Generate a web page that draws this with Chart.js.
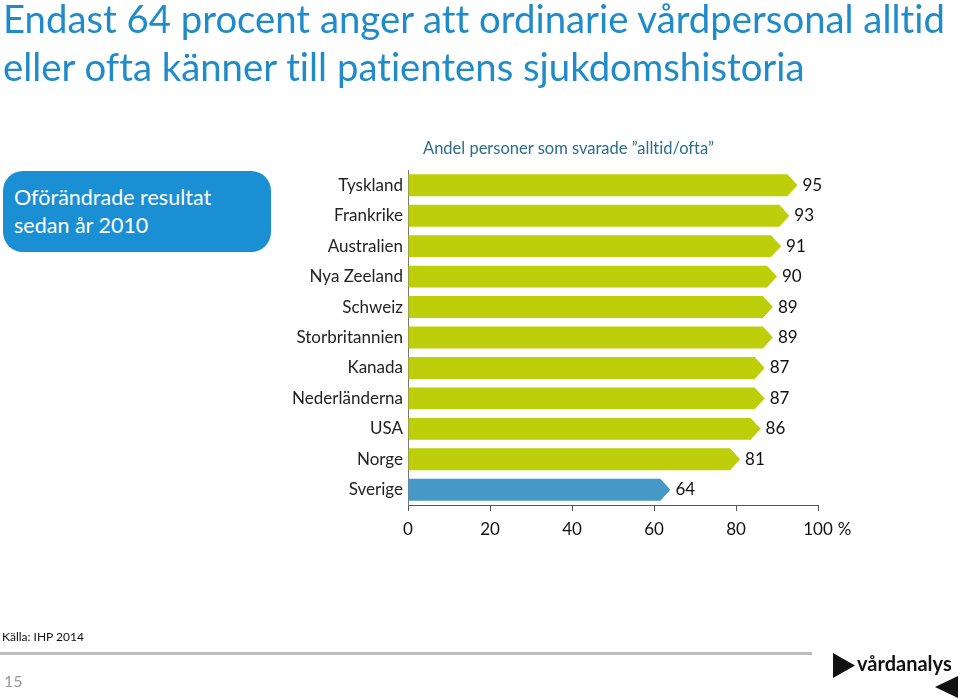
<!DOCTYPE html>
<html>
<head>
<meta charset="utf-8">
<script src="https://cdn.jsdelivr.net/npm/chart.js@4"></script>
<style>
  body { margin: 0; width: 960px; height: 700px; position: relative; overflow: hidden; background: #fff; font-family: Lato, sans-serif; font-variant-ligatures: none; }
  #grafico { position: absolute; left: 0; top: 0; }
  .titel { position: absolute; left: 3px; top: -6px; color: #1f8bc9; font-size: 38.3px; line-height: 48px; white-space: nowrap; }
  .ruta { position: absolute; left: 3px; top: 171px; width: 268px; height: 81px; border-radius: 20px; background: #1a8fd3; color: #fff; font-size: 21.5px; line-height: 28px; box-sizing: border-box; padding: 12px 0 0 11px; }
  .under { position: absolute; left: 423px; top: 138px; color: #2b6e8c; font-size: 16.5px; white-space: nowrap; }
  .kalla { position: absolute; left: 2px; top: 629px; font-size: 12px; color: #111; }
  .linje { position: absolute; left: 0; top: 652px; width: 812px; height: 3px; background: #bdbdbd; }
  .sida { position: absolute; left: 4px; top: 671px; font-size: 16px; color: #999; }
  .logo { position: absolute; left: 857px; top: 651px; font-size: 20px; font-weight: bold; color: #111; }
</style>
</head>
<body>
<canvas id="grafico" width="960" height="700"></canvas>
<div class="titel">Endast 64 procent anger att ordinarie vårdpersonal alltid<br>eller ofta känner till patientens sjukdomshistoria</div>
<div class="ruta">Oförändrade resultat<br>sedan år 2010</div>
<div class="under">Andel personer som svarade ”alltid/ofta”</div>
<div class="kalla">Källa: IHP 2014</div>
<div class="linje"></div>
<div class="sida">15</div>
<svg style="position:absolute;left:833px;top:653px" width="24" height="26"><polygon points="0,0 22,12.5 0,25" fill="#111"/></svg>
<div class="logo">vårdanalys</div>
<svg style="position:absolute;left:935px;top:676px" width="24" height="24"><polygon points="23,0 0,11 23,22" fill="#111"/></svg>
<script>
// länder och värden
var lander = ['Tyskland', 'Frankrike', 'Australien', 'Nya Zeeland', 'Schweiz', 'Storbritannien', 'Kanada', 'Nederländerna', 'USA', 'Norge', 'Sverige'];
var andel = [95, 93, 91, 90, 89, 89, 87, 87, 86, 81, 64];
var xTicks = [0, 20, 40, 60, 80, 100];

var gron = '#bdce0b';
var bla = '#4699c6';
var farger = lander.map(function (l) { return l === 'Sverige' ? bla : gron; });

// ritar staplarna som pilar och skriver värdet efter spetsen
var pilPlugin = {
    id: 'pilar',
    afterDatasetsDraw: function (chart) {
        var ctx = chart.ctx;
        var meta = chart.getDatasetMeta(0);
        ctx.save();
        meta.data.forEach(function (bar, i) {
            var p = bar.getProps(['x', 'y', 'base', 'height'], true);
            var h = p.height / 2;
            var spets = 10;
            ctx.fillStyle = farger[i];
            ctx.beginPath();
            ctx.moveTo(p.base, p.y - h);
            ctx.lineTo(p.x - spets, p.y - h);
            ctx.lineTo(p.x, p.y);
            ctx.lineTo(p.x - spets, p.y + h);
            ctx.lineTo(p.base, p.y + h);
            ctx.closePath();
            ctx.fill();
            ctx.fillStyle = '#111';
            ctx.font = '17px Lato';
            ctx.textAlign = 'left';
            ctx.textBaseline = 'middle';
            ctx.fillText(andel[i], p.x + 5, p.y);
        });
        // procenttecken efter 100
        var xs = chart.scales.x;
        var px = xs.getPixelForValue(100);
        ctx.font = '17px Lato';
        var w = ctx.measureText('100').width;
        ctx.fillStyle = '#111';
        ctx.textBaseline = 'middle';
        ctx.fillText('%', px + w / 2 + 5, 530);
        ctx.restore();
    }
};

var ctx = document.querySelector('#grafico').getContext('2d');
var chart = new Chart(ctx, {
    type: 'bar',
    data: {
        labels: lander,
        datasets: [{
            data: andel,
            backgroundColor: 'rgba(0,0,0,0)',
            barPercentage: 0.72,
            categoryPercentage: 1
        }]
    },
    options: {
        indexAxis: 'y',
        responsive: false,
        animation: false,
        layout: { padding: { left: 278, right: 142, top: 170, bottom: 150 } },
        plugins: { legend: { display: false }, tooltip: { enabled: false } },
        scales: {
            x: {
                min: 0,
                max: 100,
                afterBuildTicks: function (scale) {
                    scale.ticks = xTicks.map(function (v) { return { value: v }; });
                },
                afterFit: function (scale) { scale.height = 45; },
                grid: { drawOnChartArea: false, drawTicks: true, tickLength: 6, color: '#555' },
                border: { display: true, color: '#555', width: 1 },
                ticks: { color: '#111', font: { family: 'Lato', size: 17 }, padding: 8, maxRotation: 0 }
            },
            y: {
                afterFit: function (scale) { scale.width = 130; },
                grid: { display: false, drawTicks: false },
                border: { display: true, color: '#777', width: 1 },
                ticks: { color: '#222', font: { family: 'Lato', size: 17 }, padding: 5 }
            }
        }
    },
    plugins: [pilPlugin]
});
</script>
</body>
</html>
